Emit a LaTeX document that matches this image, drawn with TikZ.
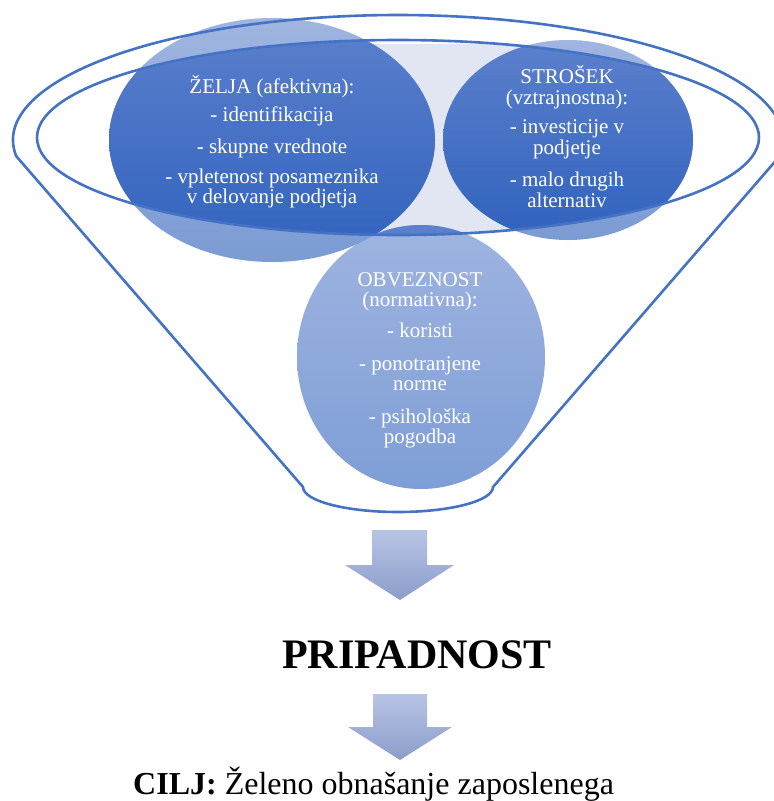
\documentclass[tikz,border=0pt]{standalone}
\usepackage{fontspec}
\setmainfont{Liberation Serif}
\newfontfamily\tnr{Liberation Serif}
\definecolor{rimblue}{HTML}{4472C4}
\definecolor{lighttop}{HTML}{A0B5E0}
\definecolor{lightbot}{HTML}{7B9BD4}
\definecolor{darktop}{HTML}{5C80CC}
\definecolor{darkbot}{HTML}{3062BE}
\definecolor{obtop}{HTML}{9FB4E0}
\definecolor{obbot}{HTML}{7E9ED6}
\definecolor{mist}{HTML}{E1E6F2}
\definecolor{arrtop}{HTML}{B8C4E5}
\definecolor{arrbot}{HTML}{8C9DCB}
\begin{document}
\begin{tikzpicture}[x=1pt,y=-1pt,
  rim/.style={draw=rimblue,line width=2.6pt},
  ctext/.style={text=white,font=\tnr\fontsize{21}{21}\selectfont,anchor=base,inner sep=0pt},
  lightfill/.style={top color=lighttop,bottom color=lightbot,draw=none},
  darkfill/.style={top color=darktop,bottom color=darkbot,draw=none},
  arrowfill/.style={top color=arrtop,bottom color=arrbot,draw=none}]
\useasboundingbox (0,0) rectangle (774,801);
\clip (0,0) rectangle (774,801);
\fill[white] (0,0) rectangle (774,801);

% light background between circles, inside the rim
\begin{scope}
  \clip (398,137.5) ellipse [x radius=361, y radius=97.5];
  \fill[mist] (330,44) rectangle (560,240);
\end{scope}

% circles (light parts)
\shade[top color=obtop,bottom color=obbot,draw=none] (421,357) ellipse [x radius=124, y radius=132];
\shade[lightfill] (272,140) ellipse [x radius=163, y radius=122];
\shade[lightfill] (568,140) ellipse [x radius=125, y radius=100];

% darker parts inside the rim
\begin{scope}
  \clip (398,137.5) ellipse [x radius=361, y radius=97.5];
  \shade[darkfill] (421,357) ellipse [x radius=124, y radius=132];
  \shade[darkfill] (272,140) ellipse [x radius=163, y radius=122];
  \shade[darkfill] (568,140) ellipse [x radius=125, y radius=100];
\end{scope}

% funnel outline
\draw[rim] (16.2,156.1) arc[start angle=172.6, end angle=367.4, x radius=385, y radius=125]
  -- (493,487) arc[start angle=0, end angle=180, x radius=95, y radius=25] -- cycle;
\draw[rim] (398,137.5) ellipse [x radius=361, y radius=97.5];

% texts
\node[ctext] (z1) at (272,93)  {ŽELJA (afektivna):};
\node[ctext] (z2) at (272,121) {- identifikacija};
\node[ctext] (z3) at (272,153) {- skupne vrednote};
\node[ctext] (z4) at (272,183) {- vpletenost posameznika};
\node[ctext] (z5) at (272,203) {v delovanje podjetja};

\node[ctext] (s1) at (567,83)  {STROŠEK};
\node[ctext] (s2) at (567,104) {(vztrajnostna):};
\node[ctext] (s3) at (567,133) {- investicije v};
\node[ctext] (s4) at (567,154) {podjetje};
\node[ctext] (s5) at (567,186) {- malo drugih};
\node[ctext] (s6) at (567,207) {alternativ};

\node[ctext] (o1) at (420,286) {OBVEZNOST};
\node[ctext] (o2) at (420,306) {(normativna):};
\node[ctext] (o3) at (420,337) {- koristi};
\node[ctext] (o4) at (420,370) {- ponotranjene};
\node[ctext] (o5) at (420,390) {norme};
\node[ctext] (o6) at (420,423) {- psihološka};
\node[ctext] (o7) at (420,443) {pogodba};

% arrows
\shade[arrowfill] (372,530) -- (427,530) -- (427,565) -- (454,565) -- (400,600)
  -- (345,565) -- (372,565) -- cycle;
\shade[arrowfill] (373,694) -- (427,694) -- (427,727) -- (452,727) -- (400,760)
  -- (348,727) -- (373,727) -- cycle;

\node[anchor=base,inner sep=0pt,font=\tnr\fontsize{42}{42}\selectfont\bfseries] (prip) at (417,668) {PRIPADNOST};
\node[anchor=base west,inner sep=0pt,font=\tnr\fontsize{32}{32}\selectfont] (cilj) at (133,794) {\textbf{CILJ:} Želeno obnašanje zaposlenega};
\end{tikzpicture}
\end{document}
